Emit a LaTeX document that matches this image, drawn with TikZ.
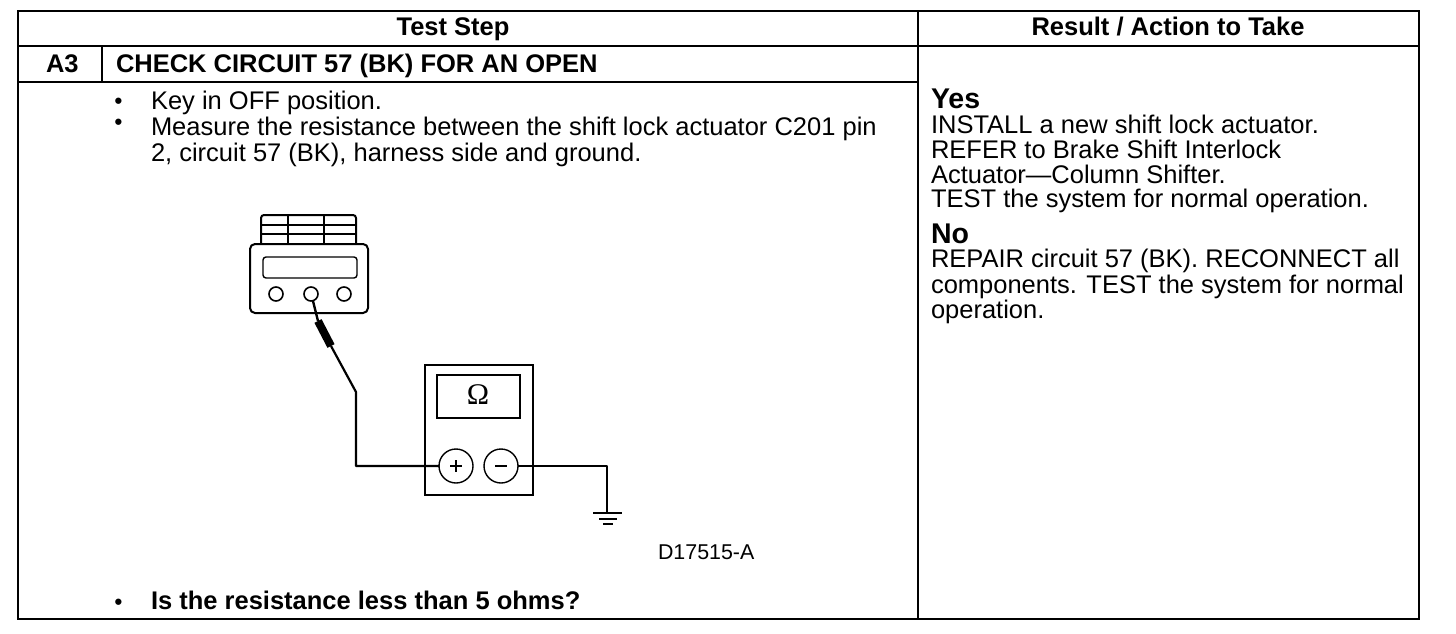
\documentclass[tikz,border=0pt]{standalone}
\usepackage{fontspec}
\setmainfont{Liberation Sans}
\newfontfamily\omegafont{Liberation Serif}
\tikzset{x=1pt,y=-1pt,
 rule/.style={line width=1.4pt,black},
 ink/.style={line width=2pt,black,line join=round},
 thin ink/.style={line width=1.4pt,black},
 txt/.style={anchor=base west,inner sep=0pt,outer sep=0pt,font=\fontsize{25.5}{26}\selectfont},
 dot/.style={anchor=base west,inner sep=0pt,outer sep=0pt,font=\fontsize{22}{22}\selectfont\bfseries},
 head/.style={anchor=base,inner sep=0pt,outer sep=0pt,font=\fontsize{25.5}{26}\selectfont\bfseries},
 big/.style={anchor=base west,inner sep=0pt,outer sep=0pt,font=\fontsize{28.5}{30}\selectfont\bfseries},
 port/.style={circle,draw,line width=1.6pt,minimum size=14pt,inner sep=0pt,outer sep=0pt},
 jack/.style={circle,draw,line width=1.4pt,minimum size=34pt,inner sep=0pt,outer sep=0pt},
}
\begin{document}
\begin{tikzpicture}
\useasboundingbox (0,0) rectangle (1456,634);
\fill[white] (0,0) rectangle (1456,634);
% table
\draw[rule] (18,11) rectangle (1419,619);
\draw[rule] (918,11) -- (918,619);
\draw[rule] (18,46) -- (1419,46);
\draw[rule] (18,82) -- (918,82);
\draw[rule] (102,46) -- (102,82);
\node[head] (h1) at (453,36) {Test Step};
\node[head] (h2) at (1168,36) {Result / Action to Take};
\node[head,anchor=base west] (a3) at (46,72) {A3};
\node[head,anchor=base west] (title) at (116,72) {CHECK CIRCUIT 57 (BK) FOR AN OPEN};
% body text
\node[dot] (b1) at (114.5,108.5) {•};
\node[txt] (t1) at (151,109) {Key in OFF position.};
\node[dot] (b2) at (114.5,129.5) {•};
\node[txt] (t2) at (151,135) {Measure the resistance between the shift lock actuator C201 pin};
\node[txt] (t3) at (151,161) {2, circuit 57 (BK), harness side and ground.};
\node[dot] (b3) at (114.5,609.5) {•};
\node[head,anchor=base west] (q) at (151,609) {Is the resistance less than 5 ohms?};
\node[txt,font=\fontsize{21.4}{22}\selectfont] (code) at (658,559.5) {D17515-A};
% right column
\node[big] (yes) at (931,108) {Yes};
\node[txt] (y1) at (931,133) {INSTALL a new shift lock actuator.};
\node[txt] (y2) at (931,158) {REFER to Brake Shift Interlock};
\node[txt] (y3) at (931,183) {Actuator—Column Shifter.};
\node[txt] (y4) at (931,207) {TEST the system for normal operation.};
\node[big] (no) at (931,243) {No};
\node[txt] (n1) at (931,267) {REPAIR circuit 57 (BK). RECONNECT all};
\node[txt] (n2) at (931,293) {components. TEST the system for normal};
\node[txt] (n3) at (931,318) {operation.};
% scan tool
\draw[ink,rounded corners=3pt] (261,244) -- (261,215) -- (356,215) -- (356,244);
\draw[thin ink] (261,225) -- (356,225) (261,234) -- (356,234) (324,215) -- (324,244);
\draw[ink] (288,215) -- (288,244);
\draw[ink,rounded corners=5pt] (250,244) rectangle (368,313);
\draw[thin ink,rounded corners=3pt] (263,257) rectangle (357,278);
\node[port] (p1) at (276,294) {};
\node[port] (p2) at (311,294) {};
\node[port] (p3) at (344,294) {};
% ohmmeter
\draw[line width=2.2pt] (425,365) rectangle (533,495);
\draw[thin ink] (437,375) rectangle (520,418);
\node[inner sep=0pt,font=\omegafont\fontsize{30}{30}\selectfont] (om) at (478,395) {Ω};
\node[jack] (plus) at (456,466) {};
\node[jack] (minus) at (501,466) {};
\draw[line width=2pt] (450,466) -- (462,466) (456,460) -- (456,472);
\draw[line width=2pt] (495,466) -- (507,466);
% leads
\coordinate (elbow) at (356,392);
\coordinate (corner) at (356,466);
\coordinate (gcorner) at (607,466);
\coordinate (gnd) at (607,513);
\coordinate (pa) at (318,321);
\coordinate (pb) at (331,346);
\draw[line width=2.4pt] (p2) ++(2,7) -- (pa);
\draw[line width=8pt] (pa) -- (pb);
\draw[ink,line width=2.2pt] (pb) -- (elbow) -- (corner) -- (plus.west);
\draw[ink] (minus.east) -- (gcorner) -- (gnd);
\draw[line width=2pt] (593,513) -- (622,513);
\draw[line width=2pt] (599,519) -- (617,519);
\draw[line width=2pt] (603,524) -- (613,524);
\end{tikzpicture}
\end{document}
